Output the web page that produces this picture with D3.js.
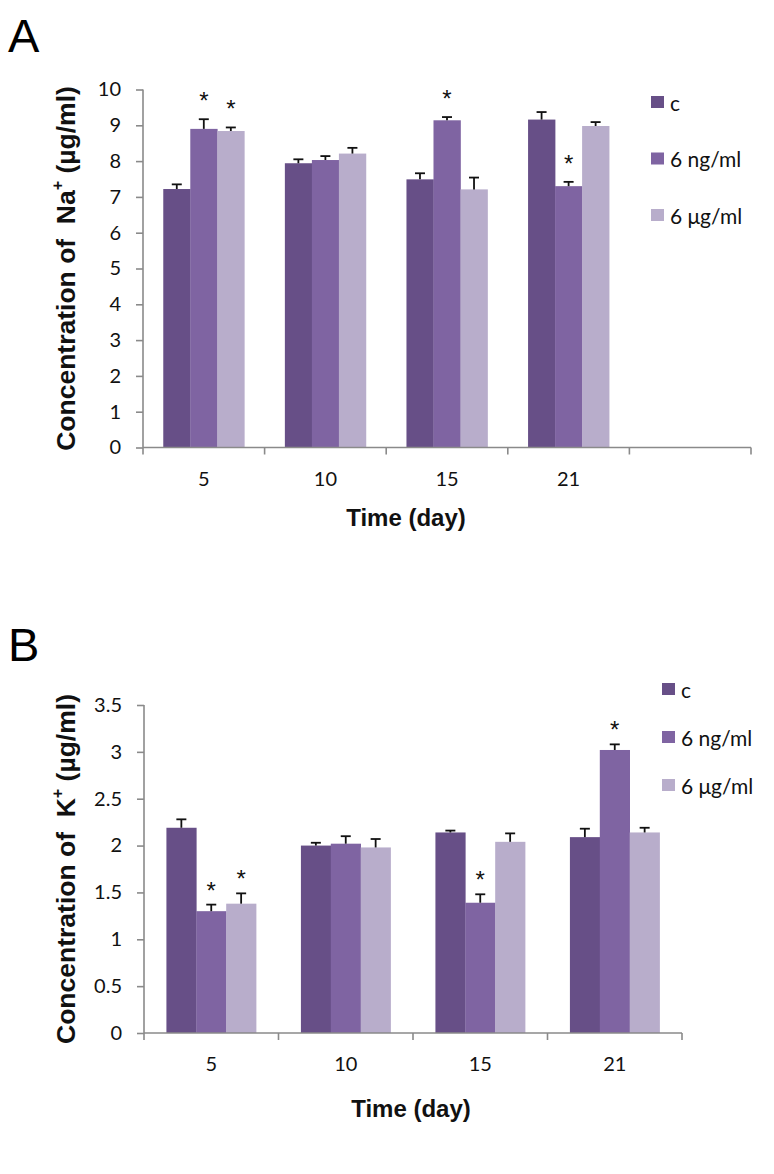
<!DOCTYPE html>
<html>
<head>
<meta charset="utf-8">
<script src="https://cdn.jsdelivr.net/npm/d3@7"></script>
<style>
  html, body { margin: 0; padding: 0; background: #fff; }
  svg { display: block; }
</style>
</head>
<body>
<script>
// ---------- data ----------
const series = ["c", "6 ng/ml", "6 μg/ml"];
const colors = ["#674f87", "#7f64a2", "#b8adcb"];
const days = ["5", "10", "15", "21"];

// Panel A: Na+
const naC      = [7.22, 7.94, 7.49, 9.16];
const naNg     = [8.90, 8.03, 9.14, 7.30];
const naUg     = [8.84, 8.21, 7.21, 8.98];
const naErrC   = [0.13, 0.11, 0.17, 0.21];
const naErrNg  = [0.27, 0.11, 0.09, 0.12];
const naErrUg  = [0.10, 0.16, 0.33, 0.11];
const naStar   = [[false, true, true], [false, false, false], [false, true, false], [false, true, false]];
const naTicks  = [0, 1, 2, 3, 4, 5, 6, 7, 8, 9, 10];

// Panel B: K+
const kC       = [2.19, 2.00, 2.14, 2.09];
const kNg      = [1.30, 2.02, 1.39, 3.02];
const kUg      = [1.38, 1.98, 2.04, 2.14];
const kErrC    = [0.09, 0.03, 0.02, 0.09];
const kErrNg   = [0.07, 0.08, 0.09, 0.06];
const kErrUg   = [0.11, 0.09, 0.09, 0.05];
const kStar    = [[false, true, true], [false, false, false], [false, true, false], [false, true, false]];
const kTicks   = [0, 0.5, 1, 1.5, 2, 2.5, 3, 3.5];

const W = 774, H = 1174;
const svg = d3.select("body").append("svg").attr("width", W).attr("height", H);

const tickFont = "Lato, 'Open Sans', sans-serif";
const titleFont = "'Liberation Sans', Arial, sans-serif";

function panel(cfg) {
  const g = svg.append("g");
  const x = d3.scaleBand().domain(cfg.slots).range([cfg.x0, cfg.x1]);
  const y = d3.scaleLinear().domain([0, cfg.ymax]).range([cfg.y0, cfg.y1]);
  const step = x.bandwidth();
  const bw = step / 4.5;
  const inner = d3.scaleBand().domain(series).range([0, 3 * bw]);

  const rows = cfg.cats.map((d, i) => ({
    cat: d,
    vals: [cfg.v[0][i], cfg.v[1][i], cfg.v[2][i]],
    errs: [cfg.e[0][i], cfg.e[1][i], cfg.e[2][i]],
    stars: cfg.stars[i]
  }));
  const grp = g.selectAll("g.grp").data(rows).join("g")
    .attr("transform", d => `translate(${x(d.cat) + 0.75 * bw},0)`);
  const items = d => d.vals.map((v, j) => ({ s: series[j], j, v, e: d.errs[j], star: d.stars[j] }));
  grp.selectAll("rect").data(items).join("rect")
    .attr("x", d => inner(d.s))
    .attr("width", inner.bandwidth() + 0.3)
    .attr("y", d => y(d.v))
    .attr("height", d => y(0) - y(d.v))
    .attr("fill", d => colors[d.j]);
  // error bars
  const eb = grp.selectAll("g.eb").data(items).join("g").attr("class", "eb");
  eb.append("line")
    .attr("x1", d => inner(d.s) + bw / 2).attr("x2", d => inner(d.s) + bw / 2)
    .attr("y1", d => y(d.v)).attr("y2", d => y(d.v + d.e))
    .attr("stroke", "#111").attr("stroke-width", 1.8);
  eb.append("line")
    .attr("x1", d => inner(d.s) + bw / 2 - 5).attr("x2", d => inner(d.s) + bw / 2 + 5)
    .attr("y1", d => y(d.v + d.e)).attr("y2", d => y(d.v + d.e))
    .attr("stroke", "#111").attr("stroke-width", 1.8);
  // asterisks
  grp.selectAll("text.star").data(d => items(d).filter(t => t.star)).join("text")
    .attr("class", "star")
    .attr("x", d => inner(d.s) + bw / 2)
    .attr("y", d => y(d.v + d.e) - cfg.starOff)
    .attr("text-anchor", "middle")
    .attr("font-family", "'Liberation Sans', Arial, sans-serif").attr("font-size", 24)
    .attr("fill", "#111")
    .text("*");

  // y axis
  const ya = g.append("g").attr("transform", `translate(${cfg.x0},0)`)
    .call(d3.axisLeft(y).tickValues(cfg.ticks).tickSize(7).tickPadding(15).tickFormat(d => String(d)));
  ya.select(".domain").attr("stroke", "#8a8a8a").attr("stroke-width", 1.6).attr("d", `M0,${cfg.y0}V${cfg.y1}`);
  ya.selectAll(".tick line").attr("stroke", "#8a8a8a").attr("stroke-width", 1.6);
  ya.selectAll(".tick text").attr("font-family", tickFont).attr("font-size", 20).attr("fill", "#111");

  // x axis
  const xa = g.append("g").attr("transform", `translate(0,${cfg.y0})`)
    .call(d3.axisBottom(x).tickSize(0).tickPadding(24));
  xa.select(".domain").attr("stroke", "#8a8a8a").attr("stroke-width", 1.6).attr("d", `M${cfg.x0},0H${cfg.x1}`);
  xa.selectAll(".tick text").attr("font-family", tickFont).attr("font-size", 20).attr("fill", "#111");
  const bounds = cfg.slots.map(s => x(s)).concat([cfg.x1]);
  xa.selectAll("line.bt").data(bounds).join("line").attr("class", "bt")
    .attr("x1", d => d).attr("x2", d => d).attr("y1", 0).attr("y2", 7)
    .attr("stroke", "#8a8a8a").attr("stroke-width", 1.6);

  // titles
  g.append("text")
    .attr("transform", `translate(${cfg.ytX},${(cfg.y0 + cfg.y1) / 2}) rotate(-90)`)
    .attr("text-anchor", "middle").attr("dominant-baseline", "central")
    .style("white-space", "pre")
    .attr("font-family", titleFont).attr("font-weight", "bold").attr("font-size", 26.5).attr("fill", "#111")
    .call(t => {
      t.append("tspan").text(cfg.ytitle[0]);
      t.append("tspan").attr("font-size", 16).attr("dy", -9).text("+");
      t.append("tspan").attr("dy", 9).text(cfg.ytitle[1]);
    });
  g.append("text")
    .attr("x", cfg.xtX)
    .attr("y", cfg.xtY)
    .attr("text-anchor", "middle").attr("dominant-baseline", "central")
    .attr("font-family", titleFont)
    .attr("font-weight", "bold").attr("font-size", 24).attr("fill", "#111")
    .text("Time (day)");

  // legend
  const lg = g.selectAll("g.lg").data(series).join("g").attr("class", "lg")
    .attr("transform", (d, i) => `translate(${cfg.legX},${cfg.legY + i * cfg.legDy})`);
  lg.append("rect").attr("x", 0).attr("y", -6).attr("width", 13).attr("height", 12)
    .attr("fill", (d, i) => colors[i]);
  lg.append("text").attr("x", 19).attr("y", 0).attr("dominant-baseline", "central")
    .attr("font-family", tickFont).attr("font-size", 21).attr("fill", "#111").text(d => d);

  // panel letter
  g.append("text").attr("x", cfg.letX).attr("y", cfg.letY)
    .attr("font-family", "'Liberation Sans', Arial, sans-serif").attr("font-size", 47).attr("fill", "#000")
    .text(cfg.letter);
}

panel({
  letter: "A", letX: 8, letY: 52,
  cats: days, slots: days.concat([""]),
  v: [naC, naNg, naUg], e: [naErrC, naErrNg, naErrUg], stars: naStar,
  ticks: naTicks, ymax: 10,
  x0: 143, x1: 751, y0: 447.5, y1: 89.5,
  ytitle: ["Concentration of\u00a0 Na", " (µg/ml)"], ytX: 66, xtX: 406, xtY: 517,
  legX: 651, legY: 102, legDy: 56.5, starOff: 10
});

panel({
  letter: "B", letX: 8, letY: 661,
  cats: days, slots: days,
  v: [kC, kNg, kUg], e: [kErrC, kErrNg, kErrUg], stars: kStar,
  ticks: kTicks, ymax: 3.5,
  x0: 144, x1: 682, y0: 1033, y1: 705,
  ytitle: ["Concentration of\u00a0 K", " (µg/ml)"], ytX: 66, xtX: 411, xtY: 1108,
  legX: 662, legY: 689, legDy: 48, starOff: 6
});
</script>
</body>
</html>
